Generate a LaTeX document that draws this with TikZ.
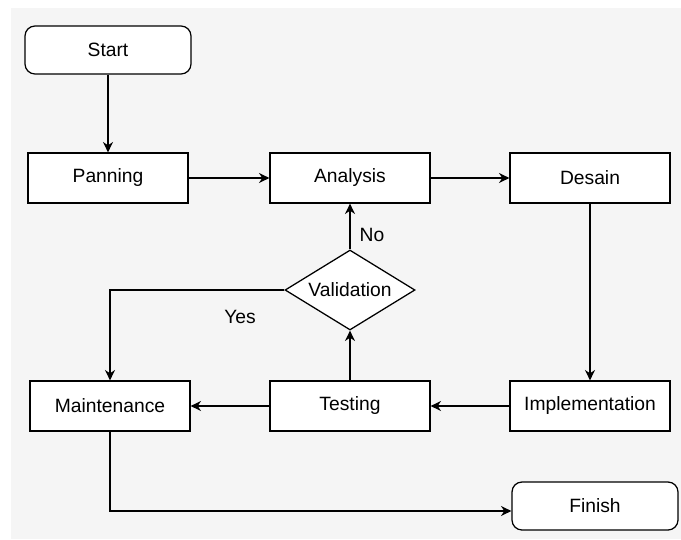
\documentclass[tikz,border=0pt]{standalone}
\usepackage{fontspec}
\setmainfont{Liberation Sans}
\usepackage{tikz}
\usetikzlibrary{arrows.meta,positioning,shapes.geometric}
\definecolor{bggray}{HTML}{F5F5F5}
\tikzset{%
	startstop/.style= {draw, fill=white, rectangle, rounded corners=2.5mm, minimum width=4.15cm, minimum height=1.2cm, text centered},
	process/.style  = {draw, fill=white, rectangle, minimum width=4cm, minimum height=1.25cm, text centered},
	decision/.style = {draw, fill=white, diamond, aspect=1.625, inner sep=0pt, minimum width=3.25cm, minimum height=2cm, text centered},
	label/.style    = {fill=none, rectangle}, % Edge text
	arrow/.style    = {-{Stealth[length=2.6mm,width=2.5mm]}},
}
\begin{document}
\begin{tikzpicture}[node distance=2.0cm,line width=0.9pt,font=\fontsize{13.7}{16}\selectfont]
	\useasboundingbox (0,0) rectangle (17.025,-13.475);
	\fill[bggray] (0.275,-0.2) rectangle (17.025,-13.475);
	
	\node [process] (panning) at (2.7,-4.45) {Panning};
	\node [startstop] (start) [above of=panning,node distance=3.2cm] {Start};
	\node [process] (analysis) [right of=panning,node distance=6.05cm] {Analysis};
	\node [process] (desain) [right of=analysis,node distance=6cm] {Desain};
	\node [process] (impl) [below of=desain,node distance=5.7cm] {Implementation};
	\node [process] (testing) [left of=impl,node distance=6cm] {Testing};
	\node [process] (maint) [left of=testing,node distance=6cm] {Maintenance};
	\node [decision] (valid) [above of=testing,node distance=2.9cm] {Validation};
	\node [startstop] (finish) [below of=impl,node distance=2.5cm,xshift=0.125cm] {Finish};
	\node [label] (no) at (9.3,-5.875) {No};
	\node [label] (yes) at (6.0,-7.925) {Yes};
	
	\draw[arrow] (start) -- (panning);
	\draw[arrow] (panning) -- (analysis);
	\draw[arrow] (analysis) -- (desain);
	\draw[arrow] (desain) -- (impl);
	\draw[arrow] (impl) -- (testing);
	\draw[arrow] (testing) -- (maint);
	\draw[arrow] (testing) -- (valid);
	\draw[arrow] (valid) -- (analysis);
	\draw[arrow] (valid.west) -| (maint.north);
	\draw[arrow] (maint.south) |- ([yshift=-0.125cm]finish.west);
	
\end{tikzpicture}
\end{document}
